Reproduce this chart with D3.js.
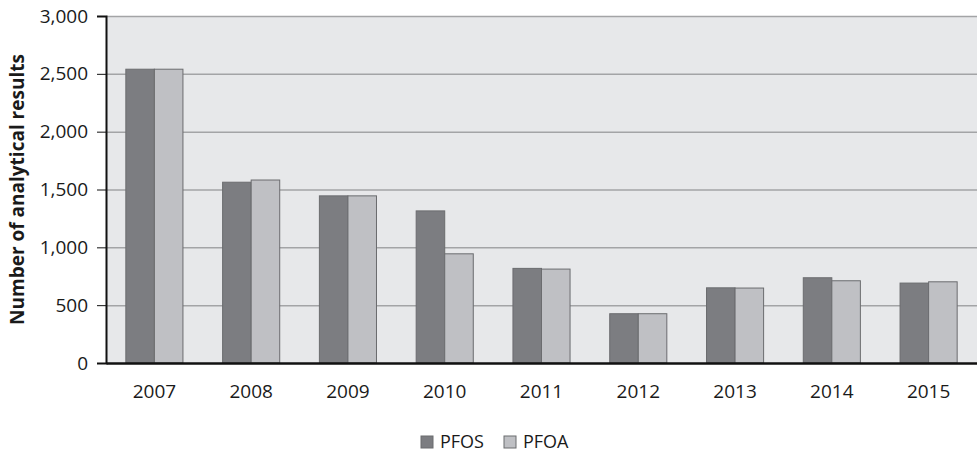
<!DOCTYPE html>
<html>
<head>
<meta charset="utf-8">
<script src="https://cdn.jsdelivr.net/npm/d3@7"></script>
<style>
  body { margin: 0; background: #fff; }
  text { font-family: "Open Sans", "DejaVu Sans", sans-serif; fill: #1a1a1a; }
</style>
</head>
<body>
<div id="chart"></div>
<script>
//Data
const years = ['2007', '2008', '2009', '2010', '2011', '2012', '2013', '2014', '2015'];
const pfos = [2540, 1563, 1445, 1315, 818, 426, 650, 737, 691];
const pfoa = [2540, 1582, 1445, 944, 812, 426, 648, 711, 702];
const yTicks = [0, 500, 1000, 1500, 2000, 2500, 3000];
const seriesNames = ['PFOS', 'PFOA'];
const seriesColors = ['#7c7d81', '#bfc0c4'];

const W = 977, H = 452;
const margin = { top: 16, right: 0, bottom: 89, left: 106 };
const innerW = W - margin.left - margin.right;
const innerH = H - margin.top - margin.bottom;

const svg = d3.select('#chart').append('svg').attr('width', W).attr('height', H);
const g = svg.append('g').attr('transform', `translate(${margin.left},${margin.top})`);

const x = d3.scaleBand().domain(years).range([0, innerW]).paddingInner(0.41).paddingOuter(0.205);
const xs = d3.scaleBand().domain(seriesNames).range([0, x.bandwidth()]);
const y = d3.scaleLinear().domain([0, 3000]).range([innerH, 0]);

// plot background
g.append('rect').attr('width', innerW).attr('height', innerH).attr('fill', '#e7e8ea');

// gridlines
g.append('g').selectAll('line').data(yTicks.filter(t => t > 0)).join('line')
  .attr('x1', 0).attr('x2', innerW)
  .attr('y1', d => y(d) + 0.5).attr('y2', d => y(d) + 0.5)
  .attr('stroke', '#a3a4a6').attr('stroke-width', 1.5);

// bars
const rows = years.map((yr, i) => ({ yr, vals: [pfos[i], pfoa[i]] }));
g.append('g').selectAll('g').data(rows).join('g')
  .attr('transform', d => `translate(${x(d.yr)},0)`)
  .selectAll('rect').data(d => d.vals.map((v, j) => ({ v, j })))
  .join('rect')
  .attr('x', d => xs(seriesNames[d.j]))
  .attr('y', d => y(d.v))
  .attr('width', xs.bandwidth())
  .attr('height', d => innerH - y(d.v))
  .attr('fill', d => seriesColors[d.j])
  .attr('stroke', '#6b6c6f').attr('stroke-width', 1);

// y axis
const yAxis = g.append('g')
  .call(d3.axisLeft(y).tickValues(yTicks).tickSize(9).tickPadding(9).tickFormat(d3.format(',')));
yAxis.select('.domain').attr('stroke', '#111').attr('stroke-width', 2);
yAxis.selectAll('.tick line').attr('stroke', '#111').attr('stroke-width', 1);
yAxis.selectAll('text').attr('font-size', 19).style('fill', '#1a1a1a');

// x axis
const xAxis = g.append('g').attr('transform', `translate(0,${innerH})`)
  .call(d3.axisBottom(x).tickSize(0).tickPadding(22));
xAxis.select('.domain').attr('stroke', '#111').attr('stroke-width', 2.5);
xAxis.selectAll('text').attr('font-size', 19).style('fill', '#1a1a1a');

// y label
svg.append('text')
  .attr('transform', `translate(24,${margin.top + innerH / 2}) rotate(-90)`)
  .attr('text-anchor', 'middle')
  .attr('font-size', 19).attr('font-weight', 700)
  .text('Number of analytical results');

// legend
const legend = svg.append('g').attr('transform', 'translate(421,436)');
const legX = [0, 83];
seriesNames.forEach((s, i) => {
  legend.append('rect').attr('x', legX[i]).attr('y', 0).attr('width', 12).attr('height', 12)
    .attr('fill', seriesColors[i]).attr('stroke', '#6b6c6f');
  legend.append('text').attr('x', legX[i] + 19).attr('y', 12)
    .attr('font-size', 18).text(s);
});
</script>
</body>
</html>
